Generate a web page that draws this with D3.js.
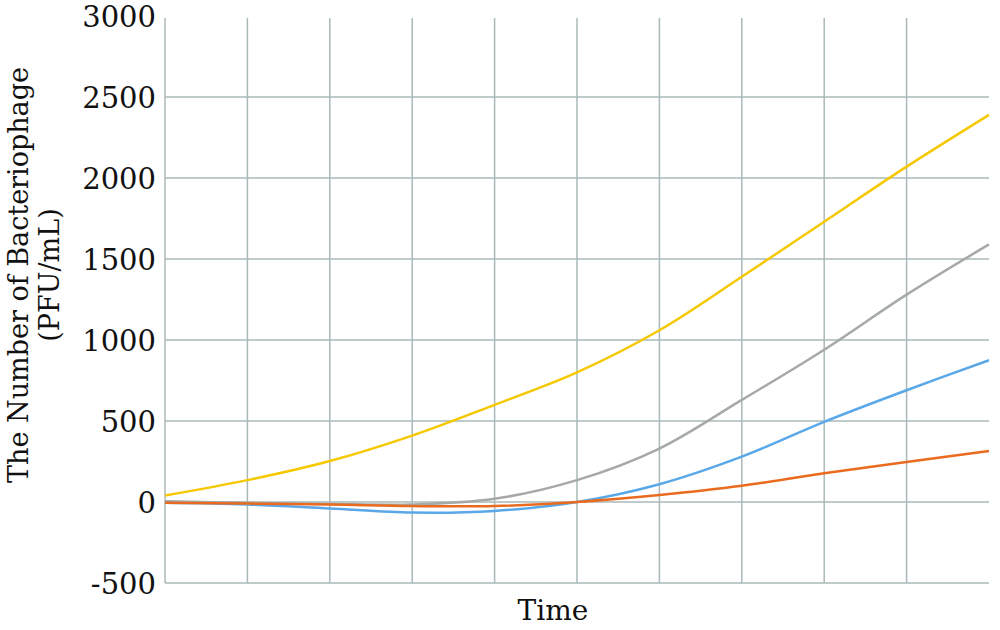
<!DOCTYPE html>
<html><head><meta charset="utf-8">
<script src="https://cdn.jsdelivr.net/npm/d3@7"></script>
<style>body{margin:0;background:#fff}svg{display:block}</style>
</head><body>
<svg id="c" width="1000" height="630"></svg>
<script>
const xValues = [0,1,2,3,4,5,6,7,8,9,10];
const yellowSeries = [40,135,253,410,600,800,1060,1390,1730,2070,2390];
const greySeries = [5,-5,-12,-15,20,135,330,630,940,1280,1590];
const blueSeries = [-5,-15,-40,-65,-55,0,110,280,495,690,875];
const orangeSeries = [-5,-10,-15,-25,-25,0,43,100,178,247,315];
const yTicks = [-500,0,500,1000,1500,2000,2500,3000];
const xGrid = [0,1,2,3,4,5,6,7,8,9];
const seriesList = [
  {name:"yellow", values:yellowSeries, color:"#f5c800"},
  {name:"grey", values:greySeries, color:"#a5aaa8"},
  {name:"blue", values:blueSeries, color:"#5aa8e8"},
  {name:"orange", values:orangeSeries, color:"#ea6b1f"}
];

const svg = d3.select("#c");
const x = d3.scaleLinear().domain([0,10]).range([165,989]);
const y = d3.scaleLinear().domain([-500,3000]).range([583,16]);
const gridColor = "#aab8b8";

svg.append("g").selectAll("line").data(yTicks.filter(d=>d<3000)).join("line")
  .attr("x1",x(0)).attr("x2",x(10)).attr("y1",d=>y(d)).attr("y2",d=>y(d))
  .attr("stroke",gridColor).attr("stroke-width",1.5);
svg.append("g").selectAll("line").data(xGrid).join("line")
  .attr("x1",d=>x(d)).attr("x2",d=>x(d)).attr("y1",y(3000)+2).attr("y2",y(-500))
  .attr("stroke",gridColor).attr("stroke-width",1.5);

const yAxis = d3.axisLeft(y).tickValues(yTicks).tickSize(0).tickPadding(9).tickFormat(d=>String(d));
const ga = svg.append("g").attr("transform",`translate(${x(0)},0)`).call(yAxis);
ga.select(".domain").remove();
ga.selectAll("text").attr("font-family","DejaVu Serif").attr("font-size",29).attr("fill","#111").attr("dy","0.36em");

const line = d3.line().x((d,i)=>x(xValues[i])).y(d=>y(d)).curve(d3.curveCatmullRom.alpha(0.5));
svg.append("g").selectAll("path").data(seriesList).join("path")
  .attr("d",d=>line(d.values)).attr("fill","none")
  .attr("stroke",d=>d.color).attr("stroke-width",2.5);

svg.append("text").attr("x",553).attr("y",620).attr("text-anchor","middle")
  .attr("font-family","DejaVu Serif").attr("font-size",28).attr("fill","#111").text("Time");
const yt = svg.append("text").attr("transform","translate(0,275) rotate(-90)")
  .attr("text-anchor","middle").attr("font-family","DejaVu Serif").attr("font-size",27).attr("fill","#111");
yt.append("tspan").attr("x",0).attr("y",28).text("The Number of Bacteriophage");
yt.append("tspan").attr("x",0).attr("y",59).text("(PFU/mL)");
</script>
</body></html>
